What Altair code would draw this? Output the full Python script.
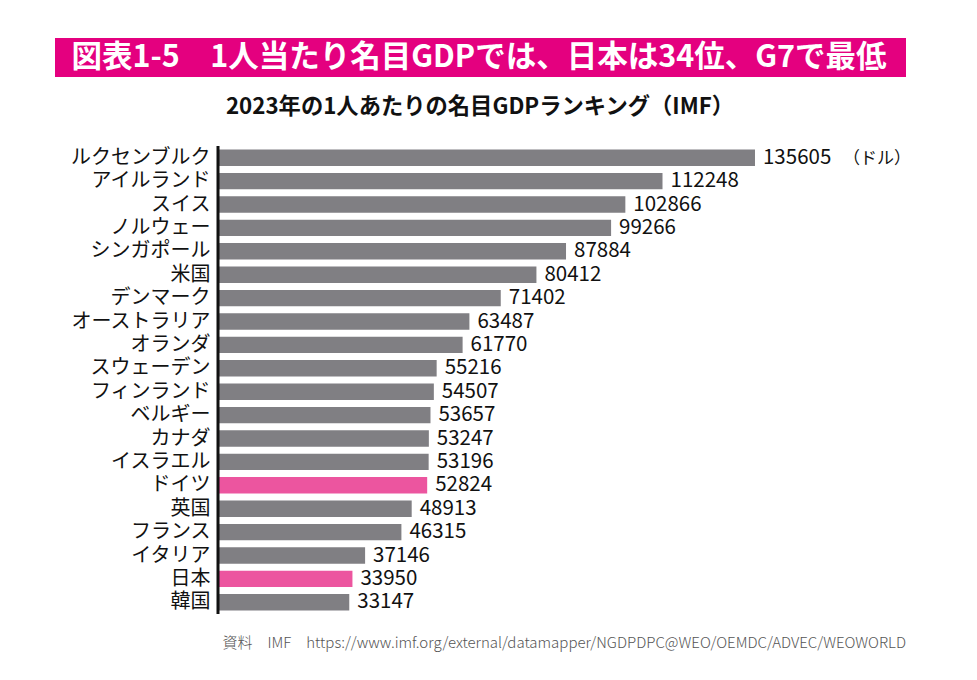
import altair as alt
import pandas as pd

countries = ["ルクセンブルク", "アイルランド", "スイス", "ノルウェー", "シンガポール", "米国",
             "デンマーク", "オーストラリア", "オランダ", "スウェーデン", "フィンランド", "ベルギー",
             "カナダ", "イスラエル", "ドイツ", "英国", "フランス", "イタリア", "日本", "韓国"]
gdp = [135605, 112248, 102866, 99266, 87884, 80412, 71402, 63487, 61770, 55216,
       54507, 53657, 53247, 53196, 52824, 48913, 46315, 37146, 33950, 33147]
highlight = ["ドイツ", "日本"]

title_text = "図表1-5　1人当たり名目GDPでは、日本は34位、G7で最低"
subtitle_text = "2023年の1人あたりの名目GDPランキング（IMF）"
unit_text = "（ドル）"
source_text = "資料　IMF　https://www.imf.org/external/datamapper/NGDPDPC@WEO/OEMDC/ADVEC/WEOWORLD"

df = pd.DataFrame({"country": countries, "gdp": gdp})
df["hl"] = df["country"].isin(highlight).map({True: "pink", False: "gray"})

FONT = "Noto Sans CJK JP"
W = 594
H = 468

base = alt.Chart(df)
y_enc = alt.Y("country:N", sort=countries, title=None,
              scale=alt.Scale(paddingInner=0.3, paddingOuter=0.15),
              axis=alt.Axis(domain=False, ticks=False, labelFontSize=20, labelColor="#111",
                            labelFont=FONT, labelPadding=8, labelLimit=300))
x_enc = alt.X("gdp:Q", scale=alt.Scale(domain=[0, 150000]), axis=None)

bars = base.mark_bar().encode(
    x=x_enc, y=y_enc,
    color=alt.Color("hl:N", scale=alt.Scale(domain=["gray", "pink"], range=["#807f83", "#ec559f"]), legend=None),
)
labels = base.mark_text(align="left", baseline="middle", dx=8, fontSize=20.5, font=FONT, color="#111").encode(
    x=x_enc, y=alt.Y("country:N", sort=countries), text=alt.Text("gdp:Q", format="d"),
)

meta = alt.Chart(pd.DataFrame({"a": [0]}))
axis_line = meta.mark_rule(color="#111", strokeWidth=3).encode(
    x=alt.value(0), y=alt.value(0), y2=alt.value(H))
banner = meta.mark_rect(color="#e4007f").encode(
    x=alt.value(55 - 218), x2=alt.value(906 - 218), y=alt.value(38 - 146), y2=alt.value(77 - 146))
banner_txt = meta.mark_text(text=title_text, color="white", fontSize=30.5, fontWeight="bold", font=FONT,
                            align="center", baseline="middle").encode(
    x=alt.value(479 - 218), y=alt.value(58 - 146))
sub_txt = meta.mark_text(text=subtitle_text, color="#111", fontSize=22.3, fontWeight="bold", font=FONT,
                         align="center", baseline="middle").encode(
    x=alt.value(480 - 218), y=alt.value(107 - 146))
unit_txt = meta.mark_text(text=unit_text, color="#111", fontSize=17, font=FONT,
                          align="left", baseline="middle").encode(
    x=alt.value(843 - 218), y=alt.value(159 - 146))
src_txt = meta.mark_text(text=source_text, color="#555", fontSize=15, font=FONT, fontWeight=300,
                         align="right", baseline="middle").encode(
    x=alt.value(906 - 218), y=alt.value(643 - 146))

chart = alt.layer(bars, labels, axis_line, banner, banner_txt, sub_txt, unit_txt, src_txt).properties(
    width=W, height=H,
    autosize=alt.AutoSizeParams(type="none"),
    padding={"left": 210, "top": 138, "right": 150, "bottom": 60},
    background="white",
).configure_view(stroke=None, strokeWidth=0)

chart.save("out.html", embed_options={"renderer": "svg", "actions": False})
